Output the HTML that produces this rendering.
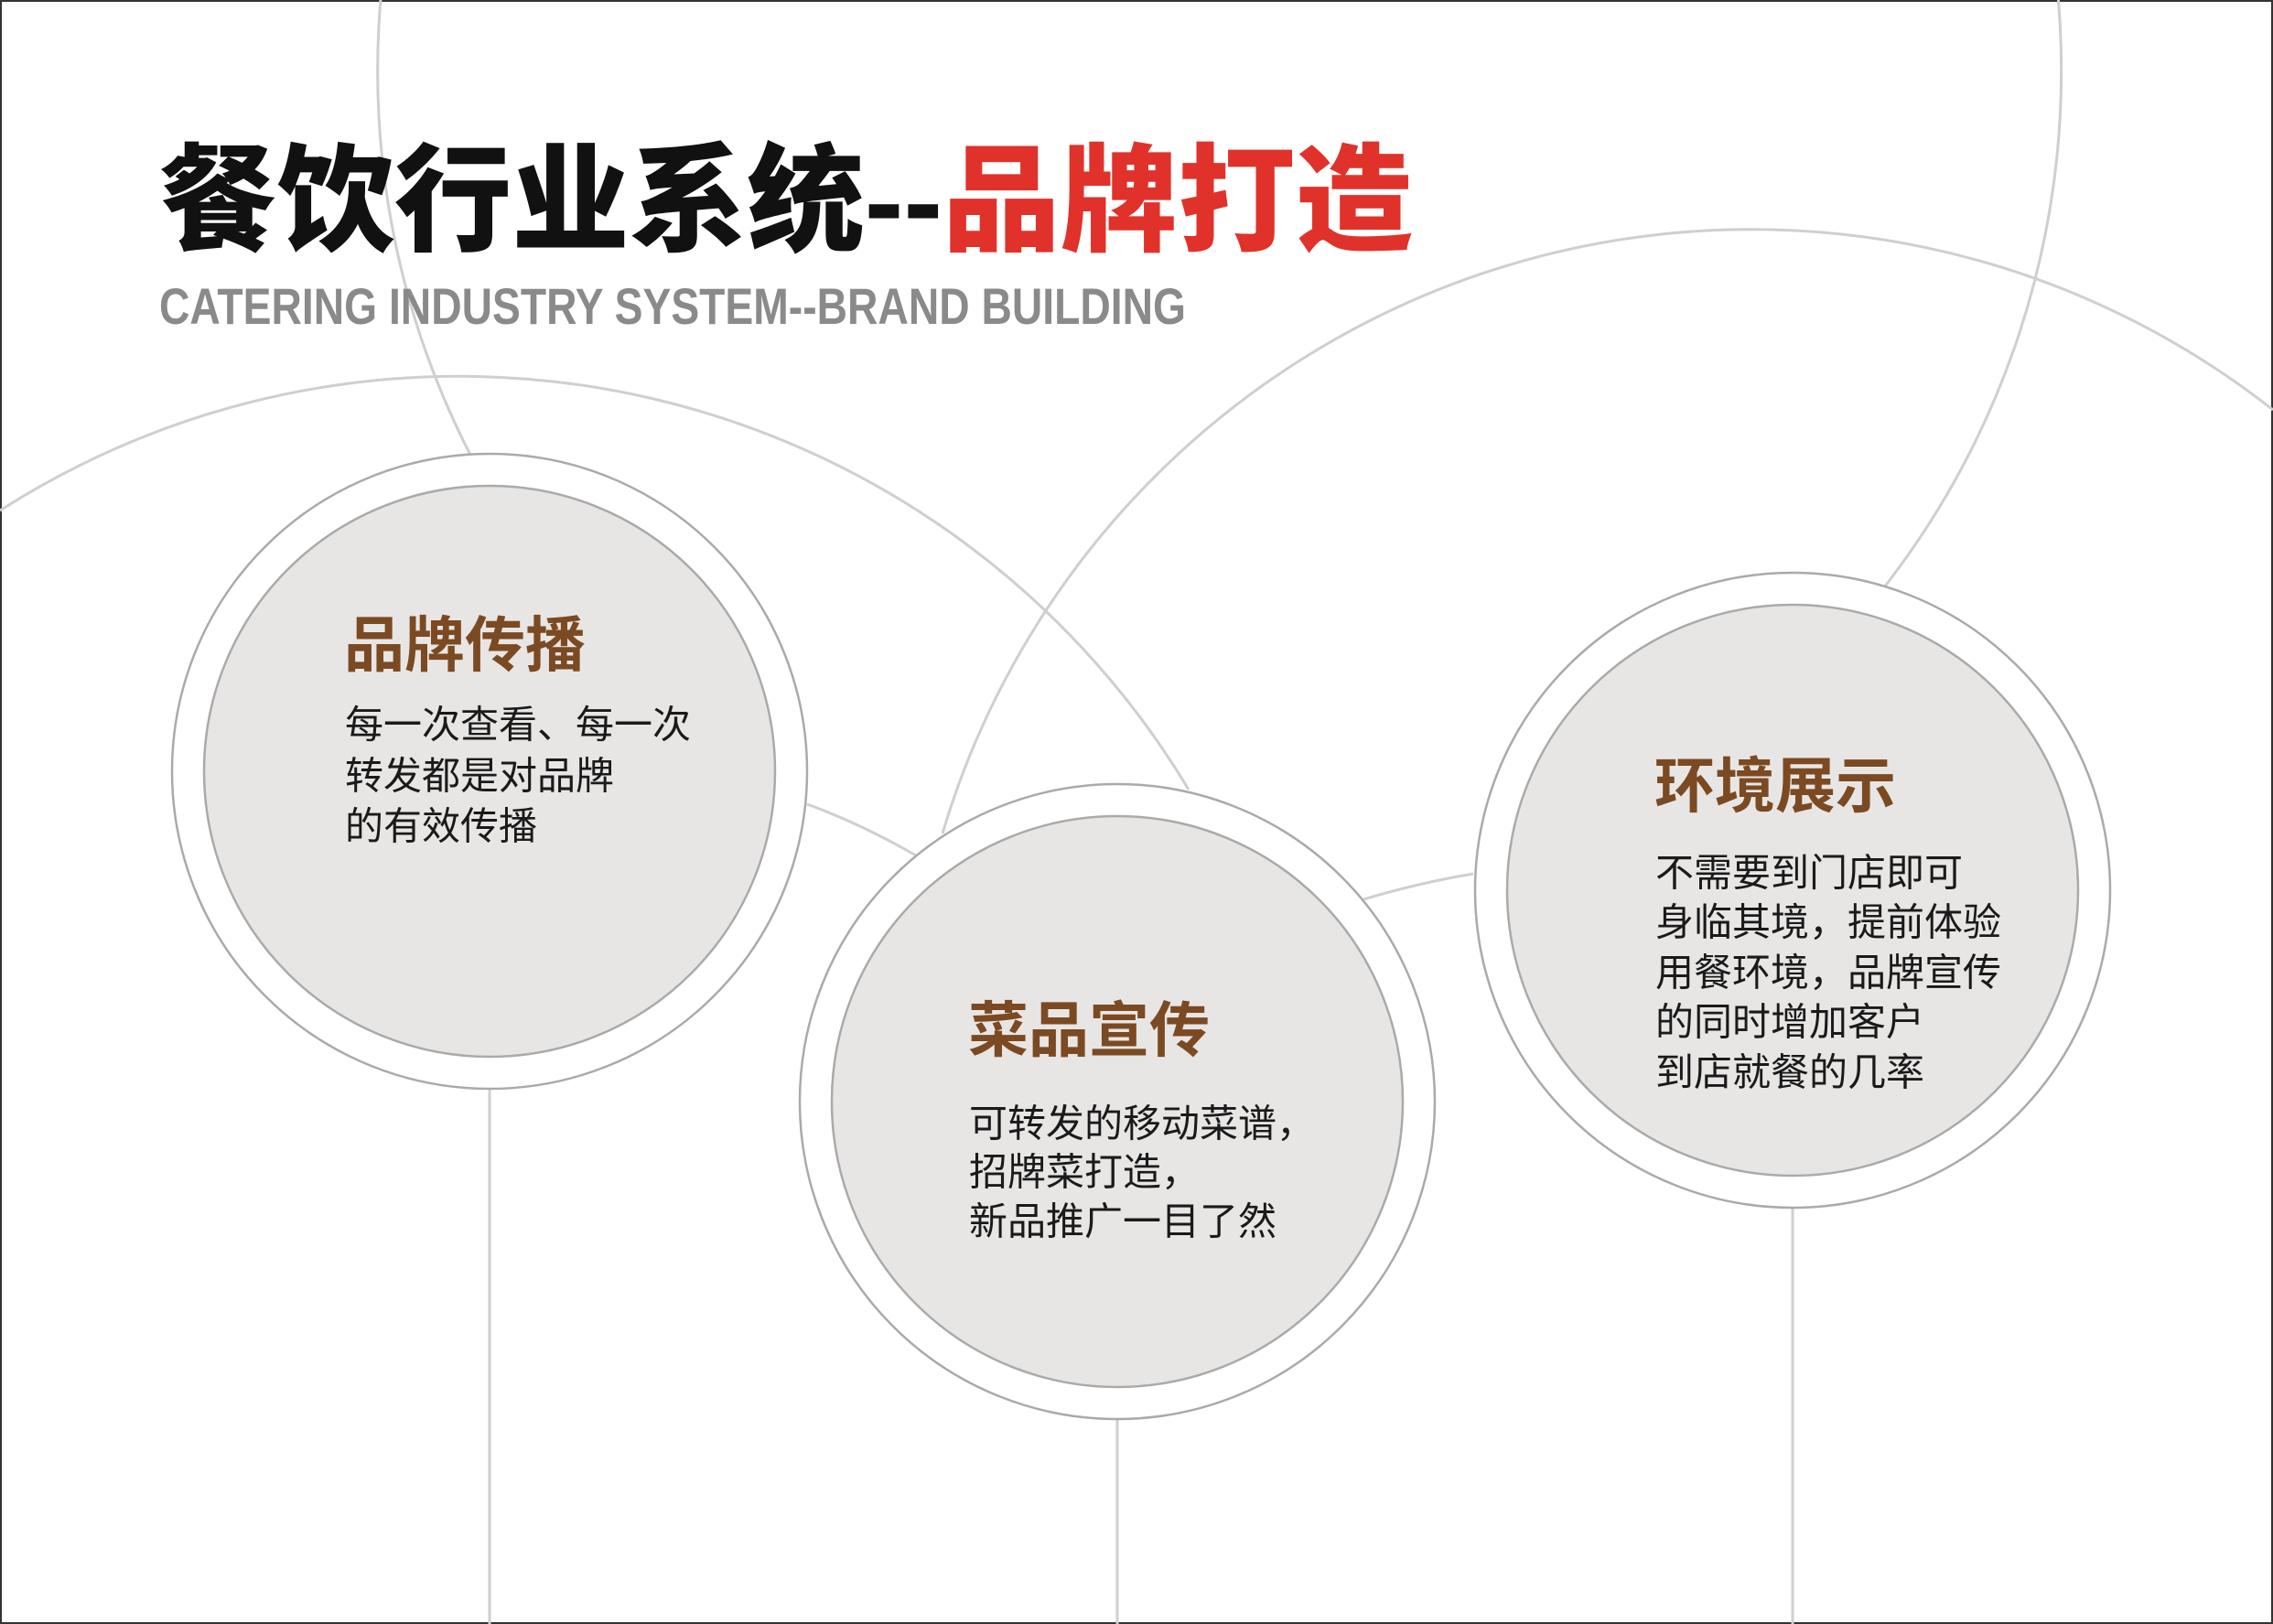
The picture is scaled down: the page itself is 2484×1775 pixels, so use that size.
<!DOCTYPE html>
<html><head><meta charset="utf-8"><style>
html,body{margin:0;padding:0;background:#fff}
svg{display:block}
.h{font-family:"Liberation Sans","Noto Sans CJK SC",sans-serif;font-weight:700;font-size:66px;fill:#7b4a22}
.b{font-family:"Liberation Sans","Noto Sans CJK SC",sans-serif;font-size:42px;fill:#1a1a1a}
</style></head><body>
<svg width="2484" height="1775" viewBox="0 0 2484 1775" xmlns="http://www.w3.org/2000/svg">
<rect x="1" y="1" width="2482" height="1773" fill="#fff" stroke="#333" stroke-width="2"/>
<g fill="none" stroke="#cfcfcf" stroke-width="3">
<path d="M0,558 A930,930 0 0,1 1299,863"/>
<path d="M515,499 A920,920 0 1,1 2059,642"/>
<path d="M1030,911 A922,922 0 0,1 2484,448"/>
<path d="M882,879 Q940,900 1001,935"/>
<path d="M1490,983 Q1550,965 1610,955"/>
<line x1="535" y1="1190" x2="535" y2="1775"/>
<line x1="1221" y1="1551" x2="1221" y2="1775"/>
<line x1="1959" y1="1320" x2="1959" y2="1775"/>
</g>
<g stroke="#aaa" stroke-width="2.5">
<circle cx="535" cy="843" r="347" fill="#fff"/>
<circle cx="535" cy="843" r="312" fill="#e8e6e5"/>
<circle cx="1221" cy="1204" r="347" fill="#fff"/>
<circle cx="1221" cy="1204" r="312" fill="#e8e6e5"/>
<circle cx="1959" cy="973" r="347" fill="#fff"/>
<circle cx="1959" cy="973" r="312" fill="#e8e6e5"/>
</g>
<text x="174" y="264" font-family="'Liberation Sans','Noto Sans CJK SC',sans-serif" font-weight="900" font-size="128" textLength="1370" lengthAdjust="spacingAndGlyphs"><tspan fill="#111">餐饮行业系统--</tspan><tspan fill="#e0322a">品牌打造</tspan></text>
<text x="174" y="354" font-family="'Liberation Sans',sans-serif" font-weight="700" font-size="56" fill="#8a8a8a" textLength="1122" lengthAdjust="spacingAndGlyphs">CATERING INDUSTRY SYSTEM--BRAND BUILDING</text>
<g dominant-baseline="central">
<text class="h" x="376" y="705">品牌传播</text>
<text class="b" x="377" y="792">每一次查看、每一次</text>
<text class="b" x="377" y="848">转发都是对品牌</text>
<text class="b" x="377" y="903">的有效传播</text>
<text class="h" x="1058" y="1126">菜品宣传</text>
<text class="b" x="1059" y="1228">可转发的移动菜谱，</text>
<text class="b" x="1059" y="1281">招牌菜打造，</text>
<text class="b" x="1059" y="1335">新品推广一目了然</text>
<text class="h" x="1808" y="859">环境展示</text>
<text class="b" x="1809" y="954">不需要到门店即可</text>
<text class="b" x="1809" y="1008">身临其境，提前体验</text>
<text class="b" x="1809" y="1063">用餐环境，品牌宣传</text>
<text class="b" x="1809" y="1117">的同时增加客户</text>
<text class="b" x="1809" y="1172">到店就餐的几率</text>
</g>
</svg>
</body></html>
